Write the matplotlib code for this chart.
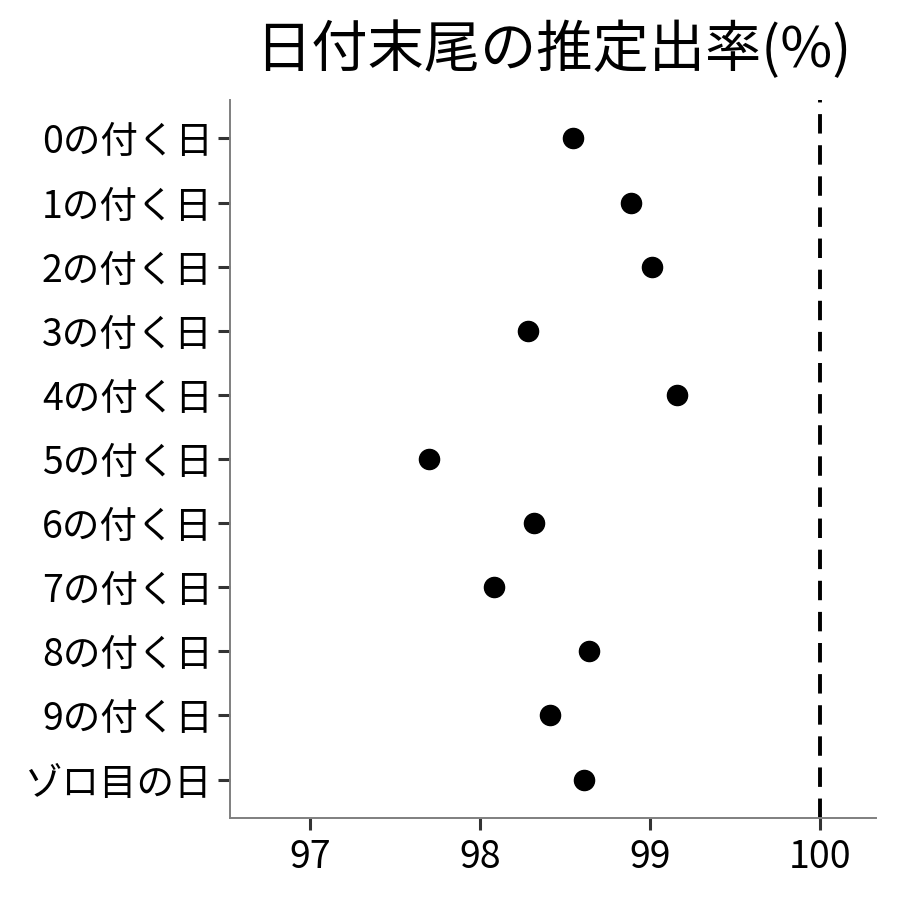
import matplotlib
matplotlib.use('Agg')
import matplotlib.pyplot as plt

plt.rcParams['font.family'] = ['Noto Sans CJK JP', 'DejaVu Sans']

labels = ['0の付く日', '1の付く日', '2の付く日', '3の付く日', '4の付く日', '5の付く日',
          '6の付く日', '7の付く日', '8の付く日', '9の付く日', 'ゾロ目の日']
rates = [98.55, 98.89, 99.01, 98.28, 99.16, 97.70, 98.32, 98.08, 98.64, 98.41, 98.61]
xticks = [97, 98, 99, 100]

fig = plt.figure(figsize=(9, 9), dpi=100)
ax = fig.add_axes([0.2556, 0.0911, 0.7177, 0.7978])

ypos = list(range(len(labels)))[::-1]
ax.plot(rates, ypos, 'o', color='black', markersize=14.5, zorder=3)
ax.axvline(100, color='black', linestyle=(0, (5, 3)), linewidth=2.8)

ax.set_xlim(96.53, 100.33)
ax.set_ylim(-0.6, len(labels) - 1 + 0.6)
ax.set_yticks(ypos)
ax.set_yticklabels(labels)
ax.set_xticks(xticks)
ax.set_xticklabels([str(x) for x in xticks])

for s in ['top', 'right']:
    ax.spines[s].set_visible(False)
for s in ['left', 'bottom']:
    ax.spines[s].set_color('#7f7f7f')
    ax.spines[s].set_linewidth(1.4)
ax.tick_params(axis='both', length=8.5, width=2.2, color='#333333', labelsize=27, pad=4)
ax.tick_params(axis='x', pad=6)

ax.set_title('日付末尾の推定出率(%)', fontsize=40.5, pad=24)

fig.savefig('out.png', dpi=100)
